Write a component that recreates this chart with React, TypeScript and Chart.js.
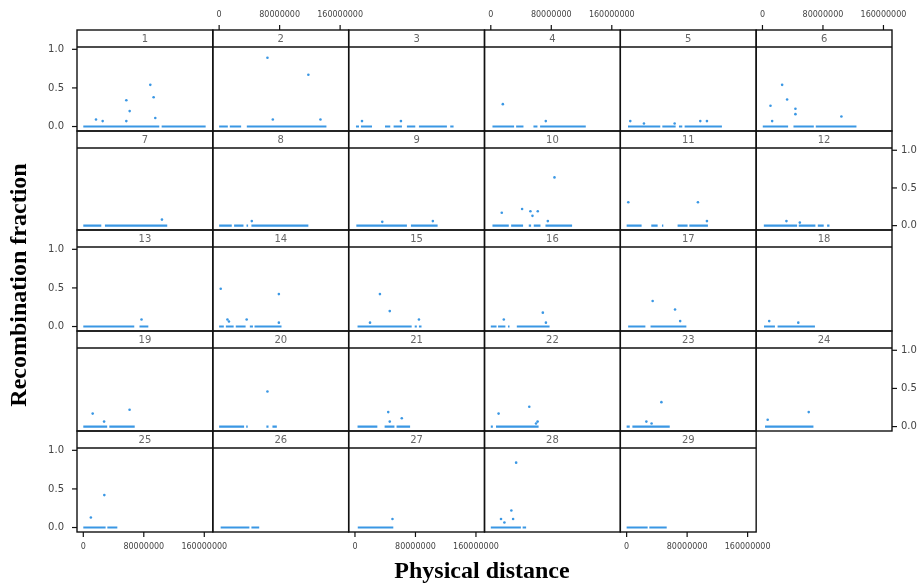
import React, { useEffect, useRef } from "react";
import { Chart, registerables } from "chart.js";

Chart.register(...registerables);

// ---------------- data ----------------
const chromosomes = [
  "1", "2", "3", "4", "5", "6", "7", "8", "9", "10",
  "11", "12", "13", "14", "15", "16", "17", "18", "19", "20",
  "21", "22", "23", "24", "25", "26", "27", "28", "29",
];

// positions (Mb) of marker intervals with non-zero recombination fraction
const recPos: number[][] = [
  [16.8, 25.6, 56.9, 61.3, 56.9, 88.6, 93.0, 95.2],
  [63.9, 71.0, 118.0, 134.0],
  [9.3, 60.8],
  [15.9, 72.7],
  [4.8, 22.9, 63.5, 97.4, 106.2],
  [10.6, 12.8, 26.0, 32.6, 43.6, 43.6, 104.4],
  [104.0],
  [43.2],
  [36.1, 103.0],
  [14.5, 41.4, 52.4, 55.1, 62.1, 75.4, 84.2],
  [2.2, 94.3, 106.2],
  [31.7, 49.4],
  [77.0],
  [2.1, 11.0, 13.0, 36.4, 79.0, 79.0],
  [19.9, 33.0, 46.0, 84.6],
  [17.2, 68.8, 72.9],
  [34.4, 64.0, 70.8],
  [8.9, 47.4],
  [12.4, 27.5, 61.2],
  [63.9],
  [44.0, 46.0, 61.9],
  [10.3, 50.9, 61.9, 59.8],
  [26.1, 33.0, 46.0],
  [6.9, 61.2],
  [10.0, 27.8],
  [],
  [49.6],
  [33.5, 27.2, 13.5, 29.5, 18.0],
  [],
];

// recombination fractions matching recPos
const recFrac: number[][] = [
  [0.09, 0.07, 0.34, 0.2, 0.07, 0.54, 0.38, 0.11],
  [0.89, 0.09, 0.67, 0.09],
  [0.07, 0.07],
  [0.29, 0.07],
  [0.07, 0.04, 0.04, 0.07, 0.07],
  [0.27, 0.07, 0.54, 0.35, 0.23, 0.16, 0.13],
  [0.08],
  [0.06],
  [0.05, 0.06],
  [0.17, 0.22, 0.19, 0.13, 0.19, 0.06, 0.64],
  [0.31, 0.31, 0.06],
  [0.06, 0.04],
  [0.09],
  [0.49, 0.09, 0.065, 0.09, 0.42, 0.05],
  [0.05, 0.42, 0.2, 0.09],
  [0.09, 0.18, 0.05],
  [0.33, 0.22, 0.07],
  [0.07, 0.05],
  [0.17, 0.065, 0.22],
  [0.46],
  [0.19, 0.065, 0.11],
  [0.17, 0.26, 0.065, 0.04],
  [0.065, 0.04, 0.32],
  [0.09, 0.19],
  [0.13, 0.42],
  [],
  [0.11],
  [0.84, 0.22, 0.11, 0.11, 0.065],
  [],
];

// runs of zero recombination (Mb): start, end, start, end, ...
const zeroRuns: number[][] = [
  [0, 100.5, 103.6, 161.8],
  [0, 11.5, 14.1, 29.1, 36.6, 141.9],
  [1.3, 5.3, 7.9, 22.5, 39.7, 46.7, 51.1, 62.1, 68.7, 79.8, 84.6, 121.6, 126.0, 130.4],
  [2.2, 30.8, 33.5, 43.2, 56.4, 61.7, 65.2, 125.6],
  [1.8, 44.5, 47.2, 64.8, 69.2, 73.6, 76.7, 126.0],
  [0.4, 33.9, 41.0, 67.9, 70.5, 124.3],
  [0, 23.8, 28.6, 111.0],
  [0, 16.7, 19.8, 32.2, 36.2, 38.3, 42.7, 118.0],
  [1.8, 68.7, 74.0, 109.3],
  [2.2, 23.8, 26.9, 42.7, 50.2, 53.3, 56.8, 65.7, 72.3, 107.5],
  [0, 19.8, 32.6, 41.0, 46.7, 48.5, 67.4, 80.6, 82.9, 107.5],
  [1.8, 45.8, 48.0, 70.0, 73.2, 81.0, 85.5, 88.6],
  [0, 67.4, 74.3, 86.0],
  [0, 6.2, 8.9, 19.2, 22.0, 35.0, 40.6, 44.7, 46.8, 82.5],
  [3.4, 75.0, 79.0, 81.8, 84.6, 88.0],
  [0, 7.6, 9.6, 19.3, 22.7, 24.8, 34.4, 77.7],
  [2.0, 24.8, 31.6, 79.0],
  [2.0, 16.5, 20.0, 69.4],
  [0, 31.6, 34.4, 68.0],
  [0, 33.0, 35.8, 37.8, 62.5, 65.3, 70.5, 76.3],
  [3.4, 29.6, 39.2, 52.2, 55.0, 72.9],
  [0, 2.7, 6.9, 63.2],
  [0, 4.1, 7.6, 57.0],
  [3.4, 67.4],
  [0, 29.5, 31.8, 45.0],
  [2.0, 40.0, 42.7, 53.0],
  [3.7, 50.7],
  [0, 39.8, 42.1, 46.7],
  [0, 27.8, 30.0, 53.0],
];

const xTickValues = [0, 80000000, 160000000];
const xTickLabels = ["0", "80000000", "160000000"];
const yTickValues = [0, 0.5, 1.0];
const yTickLabels = ["0.0", "0.5", "1.0"];

const xTitle = "Physical distance";
const yTitle = "Recombination fraction";

// ---------------- layout ----------------
const W = 922;
const H = 588;
const NCOL = 6;
const GRID_LEFT = 77;
const GRID_RIGHT = 892;
const ROW_EDGES = [30, 131, 230, 331, 431, 532];
const STRIP_H = 17;
const X_MIN = -8.33e6;
const X_MAX = 171.3e6;
const Y_MIN = -0.058;
const Y_MAX = 1.03;
const BLUE = "#3a97e4";

const TOP_AXIS = [1, 3, 5];
const BOTTOM_AXIS = [24, 26, 28];
const LEFT_AXIS = [0, 12, 24];
const RIGHT_AXIS = [11, 23];

function panelGeom(i: number) {
  const col = i % NCOL;
  const row = Math.floor(i / NCOL);
  const cw = (GRID_RIGHT - GRID_LEFT) / NCOL;
  const left = GRID_LEFT + col * cw;
  const right = left + cw;
  const stripTop = ROW_EDGES[row];
  const bottom = ROW_EDGES[row + 1];
  return { col, row, left, right, stripTop, plotTop: stripTop + STRIP_H, bottom };
}

const latticePlugin = {
  id: "lattice",
  afterLayout(chart: any) {
    chromosomes.forEach((_, i) => {
      const g = panelGeom(i);
      const xs = chart.scales["x" + i];
      const ys = chart.scales["y" + i];
      xs.left = g.left;
      xs.right = g.right;
      xs.top = g.bottom;
      xs.bottom = g.bottom;
      xs.width = g.right - g.left;
      ys.left = g.left;
      ys.right = g.left;
      ys.top = g.plotTop;
      ys.bottom = g.bottom;
      ys.height = g.bottom - g.plotTop;
      xs.configure();
      ys.configure();
    });
  },
  afterDraw(chart: any) {
    const ctx = chart.ctx as CanvasRenderingContext2D;
    ctx.save();
    // panels and strips
    ctx.strokeStyle = "#111";
    ctx.lineWidth = 1.4;
    chromosomes.forEach((name, i) => {
      const g = panelGeom(i);
      ctx.strokeRect(g.left, g.stripTop, g.right - g.left, g.bottom - g.stripTop);
      ctx.beginPath();
      ctx.moveTo(g.left, g.plotTop);
      ctx.lineTo(g.right, g.plotTop);
      ctx.stroke();
    });
    ctx.fillStyle = "#666";
    ctx.font = '10px "DejaVu Sans"';
    ctx.textAlign = "center";
    ctx.textBaseline = "middle";
    chromosomes.forEach((name, i) => {
      const g = panelGeom(i);
      ctx.fillText(name, (g.left + g.right) / 2, g.stripTop + STRIP_H / 2 + 0.5);
    });

    // axes
    ctx.strokeStyle = "#111";
    ctx.lineWidth = 1.2;
    ctx.fillStyle = "#444";
    ctx.font = '8px "DejaVu Sans"';
    TOP_AXIS.forEach((i) => {
      const g = panelGeom(i);
      const xs = chart.scales["x" + i];
      xTickValues.forEach((v, k) => {
        const px = xs.getPixelForValue(v);
        ctx.beginPath();
        ctx.moveTo(px, g.stripTop);
        ctx.lineTo(px, g.stripTop - 5);
        ctx.stroke();
        ctx.fillText(xTickLabels[k], px, g.stripTop - 15);
      });
    });
    BOTTOM_AXIS.forEach((i) => {
      const g = panelGeom(i);
      const xs = chart.scales["x" + i];
      xTickValues.forEach((v, k) => {
        const px = xs.getPixelForValue(v);
        ctx.beginPath();
        ctx.moveTo(px, g.bottom);
        ctx.lineTo(px, g.bottom + 5);
        ctx.stroke();
        ctx.fillText(xTickLabels[k], px, g.bottom + 15);
      });
    });
    ctx.font = '10px "DejaVu Sans"';
    LEFT_AXIS.forEach((i) => {
      const g = panelGeom(i);
      const ys = chart.scales["y" + i];
      ctx.textAlign = "right";
      yTickValues.forEach((v, k) => {
        const py = ys.getPixelForValue(v);
        ctx.beginPath();
        ctx.moveTo(g.left - 5, py);
        ctx.lineTo(g.left, py);
        ctx.stroke();
        ctx.fillText(yTickLabels[k], g.left - 13, py);
      });
    });
    RIGHT_AXIS.forEach((i) => {
      const g = panelGeom(i);
      const ys = chart.scales["y" + i];
      ctx.textAlign = "left";
      yTickValues.forEach((v, k) => {
        const py = ys.getPixelForValue(v);
        ctx.beginPath();
        ctx.moveTo(g.right, py);
        ctx.lineTo(g.right + 5, py);
        ctx.stroke();
        ctx.fillText(yTickLabels[k], g.right + 9, py);
      });
    });

    // titles
    ctx.fillStyle = "#000";
    ctx.font = 'bold 24px "Liberation Serif"';
    ctx.textAlign = "center";
    ctx.textBaseline = "middle";
    ctx.fillText(xTitle, 482, 572);
    ctx.translate(20, 285);
    ctx.rotate(-Math.PI / 2);
    ctx.fillText(yTitle, 0, 0);
    ctx.restore();
  },
};

export default function App() {
  const ref = useRef<HTMLCanvasElement | null>(null);

  useEffect(() => {
    if (!ref.current) return;
    const scales: any = {};
    const datasets: any[] = [];
    chromosomes.forEach((name, i) => {
      scales["x" + i] = { type: "linear", position: "bottom", display: false, min: X_MIN, max: X_MAX };
      scales["y" + i] = { type: "linear", position: "left", display: false, min: Y_MIN, max: Y_MAX };
      datasets.push({
        type: "scatter",
        label: "chr" + name + " recombination",
        data: recPos[i].map((p, k) => ({ x: p * 1e6, y: recFrac[i][k] })),
        xAxisID: "x" + i,
        yAxisID: "y" + i,
        pointRadius: 1.3,
        pointBorderWidth: 0,
        backgroundColor: BLUE,
        borderColor: BLUE,
        showLine: false,
      });
      const runs = zeroRuns[i];
      const d: any[] = [];
      for (let k = 0; k < runs.length; k += 2) {
        d.push({ x: runs[k] * 1e6, y: 0 }, { x: runs[k + 1] * 1e6, y: 0 }, { x: runs[k + 1] * 1e6, y: null });
      }
      datasets.push({
        type: "scatter",
        label: "chr" + name + " zero",
        data: d,
        xAxisID: "x" + i,
        yAxisID: "y" + i,
        showLine: true,
        spanGaps: false,
        pointRadius: 0,
        borderWidth: 2.2,
        borderColor: BLUE,
        backgroundColor: BLUE,
        borderCapStyle: "butt",
      });
    });

    const chart = new Chart(ref.current, {
      type: "scatter",
      data: { datasets },
      options: {
        responsive: false,
        animation: false,
        events: [],
        layout: { padding: 0 },
        plugins: {
          legend: { display: false },
          tooltip: { enabled: false },
          title: { display: false },
        },
        scales,
      },
      plugins: [latticePlugin],
    } as any);
    return () => chart.destroy();
  }, []);

  return (
    <div style={{ position: "absolute", left: 0, top: 0, width: W, height: H, background: "#fff" }}>
      <canvas ref={ref} width={W} height={H} style={{ width: W, height: H, display: "block" }} />
    </div>
  );
}
